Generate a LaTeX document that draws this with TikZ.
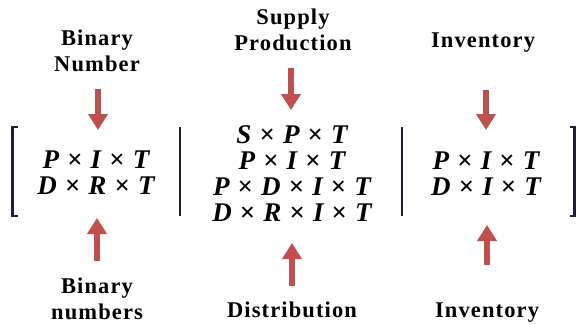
\documentclass[tikz,border=0pt]{standalone}
\usepackage{fontspec}
\setmainfont{Liberation Serif}
\newfontfamily\lblfont[LetterSpace=5]{Liberation Serif}
\usetikzlibrary{arrows.meta}
\definecolor{arrowred}{HTML}{C0504D}
\definecolor{barnavy}{HTML}{1E1E3C}
% bold italic variable and a bold upright cross between them
\newcommand{\mv}[1]{{\bfseries\itshape #1}}
\newcommand{\cx}{\hspace{0.3em}{\bfseries ×}\hspace{0.3em}}
\tikzset{
  lbl/.style={font=\lblfont\fontsize{22.5}{25.5}\selectfont\bfseries, align=center, inner sep=0pt},
  mrow/.style={font=\fontsize{27}{28}\selectfont, inner sep=0pt, anchor=center,
    text height=18pt, text depth=0pt},
  fatarrow/.style={draw=arrowred, line width=6pt,
    -{Triangle[width=19pt,length=16pt]}, arrowred},
  barline/.style={draw=barnavy, line width=2.6pt}
}
\begin{document}
\begin{tikzpicture}[x=1pt,y=-1pt]
\useasboundingbox (0,0) rectangle (578,324);

% brackets and separators
\draw[barline] (17.5,127) -- (12.5,127) -- (12.5,216) -- (17.5,216);
\draw[barline] (180,127) -- (180,216);
\draw[barline] (402,127) -- (402,216);
\draw[barline] (569.5,127) -- (574.5,127) -- (574.5,216) -- (569.5,216);

% labels above
\node[lbl] (topL) at (97,51) {Binary\\Number};
\node[lbl] (topM) at (293,30) {Supply\\Production};
\node[lbl] (topR) at (483,43) {Inventory};

% labels below
\node[lbl] (botL) at (97,299) {Binary\\numbers};
\node[lbl] (botM) at (292,310) {Distribution};
\node[lbl] (botR) at (487,313) {Inventory};

% left block
\node[mrow] (l1) at (96,159) {\mv{P}\cx\mv{I}\cx\mv{T}};
\node[mrow] (l2) at (96,185) {\mv{D}\cx\mv{R}\cx\mv{T}};

% middle block
\node[mrow] (m1) at (292,134) {\mv{S}\cx\mv{P}\cx\mv{T}};
\node[mrow] (m2) at (292,160) {\mv{P}\cx\mv{I}\cx\mv{T}};
\node[mrow] (m3) at (292,186) {\mv{P}\cx\mv{D}\cx\mv{I}\cx\mv{T}};
\node[mrow] (m4) at (292,212) {\mv{D}\cx\mv{R}\cx\mv{I}\cx\mv{T}};

% right block
\node[mrow] (r1) at (486,160) {\mv{P}\cx\mv{I}\cx\mv{T}};
\node[mrow] (r2) at (486,186) {\mv{D}\cx\mv{I}\cx\mv{T}};

% arrow end points
\coordinate (aLs) at (98,89);  \coordinate (aLe) at (98,130);
\coordinate (aMs) at (291,68); \coordinate (aMe) at (291,110);
\coordinate (aRs) at (486,90); \coordinate (aRe) at (486,130);
\coordinate (bLs) at (97,261); \coordinate (bLe) at (97,218);
\coordinate (bMs) at (292,286); \coordinate (bMe) at (292,243);
\coordinate (bRs) at (487,265); \coordinate (bRe) at (487,225);

\draw[fatarrow] (aLs) -- (aLe);
\draw[fatarrow] (aMs) -- (aMe);
\draw[fatarrow] (aRs) -- (aRe);
\draw[fatarrow] (bLs) -- (bLe);
\draw[fatarrow] (bMs) -- (bMe);
\draw[fatarrow] (bRs) -- (bRe);
\end{tikzpicture}
\end{document}
